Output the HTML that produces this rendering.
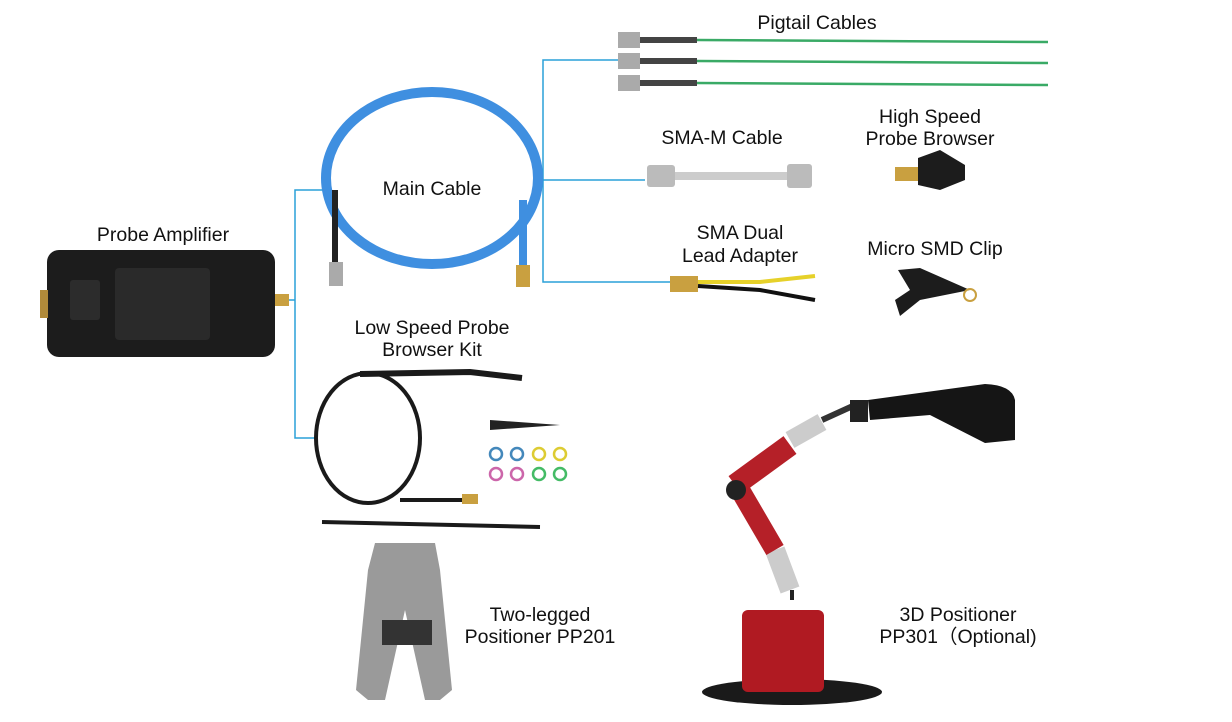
<!DOCTYPE html>
<html><head><meta charset="utf-8"><style>
body{margin:0;background:#fff;width:1232px;height:717px;overflow:hidden;font-family:"Liberation Sans",sans-serif}
svg text{font-family:"Liberation Sans",sans-serif;font-size:19.5px;fill:#111;text-anchor:middle}
</style></head><body>
<svg width="1232" height="717" viewBox="0 0 1232 717">
<g stroke="#2aa0d8" stroke-width="1.5" fill="none">
<path d="M275 300H295V190H330M295 300V438H318"/>
<path d="M536 180H543V60H620M543 180H645M543 180V282H672"/>
</g>
<rect x="47" y="250" width="228" height="107" rx="12" fill="#1c1c1c"/>
<rect x="70" y="280" width="30" height="40" rx="3" fill="#2c2c2c"/>
<rect x="115" y="268" width="95" height="72" rx="4" fill="#2a2a2a"/>
<rect x="275" y="294" width="14" height="12" fill="#c9a040"/>
<rect x="40" y="290" width="8" height="28" fill="#b08a3a"/>
<text x="163" y="241">Probe Amplifier</text>
<ellipse cx="432" cy="178" rx="106" ry="86" fill="none" stroke="#3f8fe0" stroke-width="10"/>
<path d="M335 190 L335 270" stroke="#222" stroke-width="6"/>
<path d="M523 200 L523 270" stroke="#3f8fe0" stroke-width="8"/>
<rect x="329" y="262" width="14" height="24" fill="#aaa"/>
<rect x="516" y="265" width="14" height="22" fill="#c9a040"/>
<text x="432" y="195">Main Cable</text>
<text x="817" y="29">Pigtail Cables</text>
<g fill="#aaa"><rect x="618" y="32" width="22" height="16"/><rect x="618" y="53" width="22" height="16"/><rect x="618" y="75" width="22" height="16"/></g>
<g stroke="#444" stroke-width="6"><path d="M640 40H697M640 61H697M640 83H697"/></g>
<g stroke="#3aaa66" stroke-width="2.5"><path d="M697 40L1048 42M697 61L1048 63M697 83L1048 85"/></g>
<text x="722" y="144">SMA-M Cable</text>
<rect x="647" y="165" width="28" height="22" rx="3" fill="#bbb"/>
<rect x="675" y="172" width="112" height="8" fill="#ccc"/>
<rect x="787" y="164" width="25" height="24" rx="3" fill="#bbb"/>
<text x="930" y="123">High Speed</text><text x="930" y="145">Probe Browser</text>
<rect x="895" y="167" width="25" height="14" fill="#c9a040"/>
<path d="M918 158 L940 150 L965 165 L965 180 L940 190 L918 185Z" fill="#1c1c1c"/>
<text x="740" y="239">SMA Dual</text><text x="740" y="262">Lead Adapter</text>
<rect x="670" y="276" width="28" height="16" fill="#c9a040"/>
<path d="M698 282 L760 282 L815 276" stroke="#e6d12a" stroke-width="4" fill="none"/>
<path d="M698 286 L760 290 L815 300" stroke="#111" stroke-width="4" fill="none"/>
<text x="935" y="255">Micro SMD Clip</text>
<path d="M898 270 L920 268 L970 290 L920 300 L900 316 L895 300 L910 290Z" fill="#1c1c1c"/>
<circle cx="970" cy="295" r="6" fill="none" stroke="#c9a040" stroke-width="2"/>
<text x="432" y="334">Low Speed Probe</text><text x="432" y="356">Browser Kit</text>
<ellipse cx="368" cy="438" rx="52" ry="65" fill="none" stroke="#1a1a1a" stroke-width="4"/>
<path d="M360 374 L470 372 L522 378" stroke="#1a1a1a" stroke-width="6" fill="none"/>
<path d="M400 500 L470 500" stroke="#1a1a1a" stroke-width="4"/>
<rect x="462" y="494" width="16" height="10" fill="#c9a040"/>
<path d="M490 420 L560 425 L490 430Z" fill="#222"/>
<g fill="none" stroke-width="2.5">
<circle cx="496" cy="454" r="6" stroke="#48b"/><circle cx="517" cy="454" r="6" stroke="#48b"/><circle cx="539" cy="454" r="6" stroke="#dc3"/><circle cx="560" cy="454" r="6" stroke="#dc3"/>
<circle cx="496" cy="474" r="6" stroke="#c6a"/><circle cx="517" cy="474" r="6" stroke="#c6a"/><circle cx="539" cy="474" r="6" stroke="#4b6"/><circle cx="560" cy="474" r="6" stroke="#4b6"/>
</g>
<path d="M322 522 L540 527" stroke="#1a1a1a" stroke-width="4"/>
<path d="M375 543 L435 543 L440 570 L452 690 L440 700 L425 700 L405 610 L385 700 L368 700 L356 690 L368 570Z" fill="#9a9a9a"/>
<rect x="382" y="620" width="50" height="25" fill="#333"/>
<text x="540" y="621">Two-legged</text><text x="540" y="643">Positioner PP201</text>
<!-- 3D positioner -->
<ellipse cx="792" cy="692" rx="90" ry="13" fill="#1a1a1a"/>
<rect x="742" y="610" width="82" height="82" rx="6" fill="#b01a22"/>
<path d="M792 600 L792 590" stroke="#222" stroke-width="4"/>
<path d="M775 550 L790 590" stroke="#ccc" stroke-width="20"/>
<path d="M775 550 L740 490" stroke="#b52028" stroke-width="20"/>
<path d="M735 485 L790 445" stroke="#b52028" stroke-width="22"/>
<circle cx="736" cy="490" r="10" fill="#222"/>
<path d="M790 440 L822 422" stroke="#ccc" stroke-width="18"/>
<path d="M822 420 L855 405" stroke="#333" stroke-width="6"/>
<rect x="850" y="400" width="18" height="22" fill="#222"/>
<path d="M868 400 L985 384 Q1012 385 1015 400 L1015 440 L985 443 L930 415 L870 420Z" fill="#151515"/>
<text x="958" y="621">3D Positioner</text><text x="958" y="643">PP301（Optional)</text>
</svg>
</body></html>
